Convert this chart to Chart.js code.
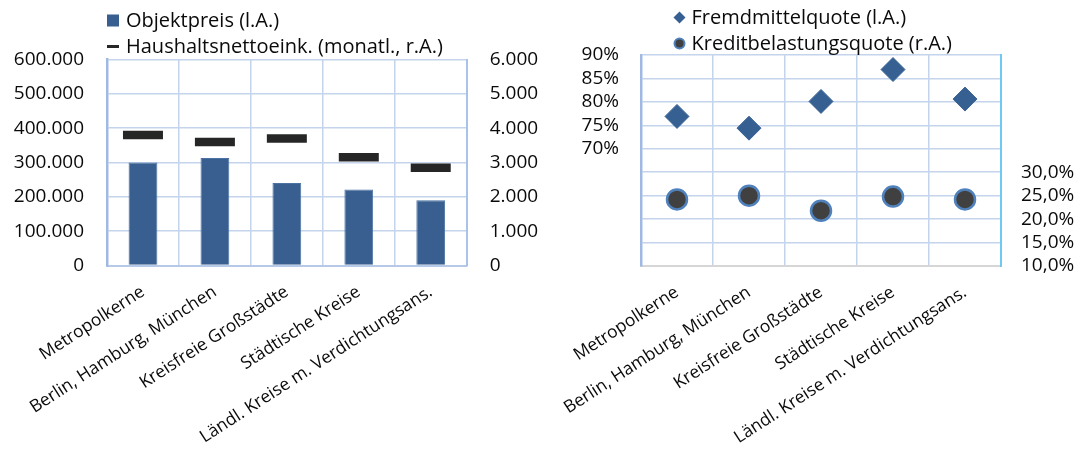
<!DOCTYPE html>
<html lang="de">
<head>
<meta charset="utf-8">
<title>Objektpreis, Einkommen und Finanzierung nach Kreistyp</title>
<script src="https://cdn.jsdelivr.net/npm/chart.js@4.4.1/dist/chart.umd.min.js"></script>
<style>
  html, body { margin: 0; padding: 0; background: #ffffff; }
  #wrap { position: relative; width: 1084px; height: 454px; overflow: hidden; }
  .panel { position: absolute; top: 0; height: 454px; }
  #left { left: 0; width: 540px; }
  #right { left: 540px; width: 544px; }
  canvas { display: block; }
</style>
</head>
<body>
<div id="wrap">
  <div class="panel" id="left"><canvas id="c1" width="540" height="454"></canvas></div>
  <div class="panel" id="right"><canvas id="c2" width="544" height="454"></canvas></div>
</div>
<script>
// Kreistypen (x axis of both panels)
const categories = [
  'Metropolkerne',
  'Berlin, Hamburg, München',
  'Kreisfreie Großstädte',
  'Städtische Kreise',
  'Ländl. Kreise m. Verdichtungsans.'
];

// Left panel: purchase price (EUR, left axis) and monthly net household income (EUR, right axis)
const objektpreis = [300000, 313000, 240000, 221000, 190000];
const haushaltsnettoeinkommen = [3800, 3600, 3700, 3150, 2850];

// Right panel: loan-to-value ratio (%, left axis) and debt service ratio (%, right axis)
const fremdmittelquote = [76.9, 74.4, 80.1, 86.9, 80.6];
const kreditbelastungsquote = [24.2, 25.0, 21.8, 24.8, 24.2];

// Tick labels
const preisTicks = [0, 100000, 200000, 300000, 400000, 500000, 600000];
const einkommenTicks = [0, 1000, 2000, 3000, 4000, 5000, 6000];
const fmqGrid = [45, 50, 55, 60, 65, 70, 75, 80, 85, 90];
const kbqGrid = [10, 15, 20, 25, 30, 35, 40, 45, 50, 55];
const fmqTicks = [70, 75, 80, 85, 90];
const kbqTicks = [10, 15, 20, 25, 30];

const FONT = "'Open Sans', 'Noto Sans', sans-serif";
const TEXT = '#0a0a0a';
const GRID = '#c3d4ec';

function dePoints(v) {
  return String(Math.round(v)).replace(/\B(?=(\d{3})+(?!\d))/g, '.');
}

// Two-row legend drawn at fixed positions above each plot
function drawMarker(ctx, kind, x, y, ds) {
  ctx.save();
  if (kind === 'square') {
    ctx.fillStyle = ds.backgroundColor;
    ctx.fillRect(x - 6, y - 6, 12, 12);
  } else if (kind === 'dash') {
    ctx.fillStyle = ds.borderColor;
    ctx.fillRect(x - 6, y - 1.5, 12, 3);
  } else if (kind === 'diamond') {
    ctx.fillStyle = ds.backgroundColor;
    ctx.beginPath();
    ctx.moveTo(x, y - 6);
    ctx.lineTo(x + 6, y);
    ctx.lineTo(x, y + 6);
    ctx.lineTo(x - 6, y);
    ctx.closePath();
    ctx.fill();
  } else if (kind === 'circle') {
    ctx.fillStyle = ds.backgroundColor;
    ctx.strokeStyle = ds.borderColor;
    ctx.lineWidth = 2;
    ctx.beginPath();
    ctx.arc(x, y, 5, 0, Math.PI * 2);
    ctx.fill();
    ctx.stroke();
  }
  ctx.restore();
}

const legendRows = {
  id: 'legendRows',
  afterDraw(chart, args, opts) {
    const ctx = chart.ctx;
    ctx.save();
    ctx.font = opts.font;
    ctx.textBaseline = 'middle';
    ctx.textAlign = 'left';
    opts.items.forEach(it => {
      const ds = chart.data.datasets[it.dataset];
      drawMarker(ctx, it.marker, it.x, it.y, ds);
      ctx.fillStyle = opts.color;
      ctx.fillText(ds.label, it.x + opts.textOffset, it.y + 1);
    });
    ctx.restore();
  }
};

function fixWidth(w) { return s => { s.width = w; }; }
function fixHeight(h) { return s => { s.height = h; }; }
function setTicks(values) { return s => { s.ticks = values.map(v => ({ value: v })); }; }

const xLabelFont = { family: FONT, size: 17.4 };
const tickFont = { family: FONT, size: 19 };
const legendFont = '20px ' + FONT;

// ---------- Left panel ----------
new Chart(document.getElementById('c1'), {
  data: {
    labels: categories,
    datasets: [
      {
        type: 'line',
        label: 'Haushaltsnettoeink. (monatl., r.A.)',
        data: haushaltsnettoeinkommen,
        yAxisID: 'y1',
        showLine: false,
        pointStyle: 'line',
        pointRadius: 20,
        pointBorderWidth: 8.5,
        borderColor: '#262626',
        backgroundColor: '#262626'
      },
      {
        type: 'bar',
        label: 'Objektpreis (l.A.)',
        data: objektpreis,
        yAxisID: 'y',
        backgroundColor: '#385f8f',
        borderColor: '#4a72a3',
        borderWidth: 1,
        barPercentage: 0.4,
        categoryPercentage: 1.0
      }
    ]
  },
  options: {
    responsive: false,
    animation: false,
    events: [],
    layout: { padding: { top: 59.5, left: 0, right: 0, bottom: 0 } },
    plugins: {
      legend: { display: false },
      tooltip: { enabled: false },
      legendRows: {
        font: legendFont,
        color: TEXT,
        textOffset: 13,
        items: [
          { dataset: 1, marker: 'square', x: 113, y: 20.5 },
          { dataset: 0, marker: 'dash', x: 113, y: 46.5 }
        ]
      }
    },
    scales: {
      x: {
        type: 'category',
        offset: true,
        grid: { display: true, offset: true, color: GRID, lineWidth: 1.5, drawTicks: false },
        border: { display: true, color: '#b6c9e8', width: 2 },
        ticks: { font: xLabelFont, color: TEXT, minRotation: 33, maxRotation: 33, autoSkip: false, padding: 16 },
        afterFit: fixHeight(454 - 265.5)
      },
      y: {
        position: 'left',
        min: 0, max: 600000,
        afterBuildTicks: setTicks(preisTicks),
        grid: { color: GRID, lineWidth: 1.5, drawTicks: false },
        border: { display: true, color: '#9fb9e3', width: 2.5 },
        ticks: { font: tickFont, color: TEXT, padding: 23, autoSkip: false, callback: v => dePoints(v) },
        afterFit: fixWidth(107)
      },
      y1: {
        position: 'right',
        min: 0, max: 6000,
        afterBuildTicks: setTicks(einkommenTicks),
        grid: { display: false, drawTicks: false },
        border: { display: true, color: '#a9c2e8', width: 2 },
        ticks: { font: tickFont, color: TEXT, padding: 23, autoSkip: false, callback: v => dePoints(v) },
        afterFit: fixWidth(540 - 466.7)
      }
    }
  },
  plugins: [legendRows]
});

// ---------- Right panel ----------
new Chart(document.getElementById('c2'), {
  type: 'line',
  data: {
    labels: categories,
    datasets: [
      {
        label: 'Fremdmittelquote (l.A.)',
        data: fremdmittelquote,
        yAxisID: 'y',
        showLine: false,
        pointStyle: 'rectRot',
        pointRadius: 12,
        pointBorderWidth: 1,
        backgroundColor: '#376092',
        borderColor: '#3a6597'
      },
      {
        label: 'Kreditbelastungsquote (r.A.)',
        data: kreditbelastungsquote,
        yAxisID: 'y1',
        showLine: false,
        pointStyle: 'circle',
        pointRadius: 10,
        pointBorderWidth: 2.5,
        backgroundColor: '#404040',
        borderColor: '#4f81bd'
      }
    ]
  },
  options: {
    responsive: false,
    animation: false,
    events: [],
    layout: { padding: { top: 55, left: 0, right: 0, bottom: 0 } },
    plugins: {
      legend: { display: false },
      tooltip: { enabled: false },
      legendRows: {
        font: legendFont,
        color: TEXT,
        textOffset: 12,
        items: [
          { dataset: 0, marker: 'diamond', x: 139.5, y: 17.5 },
          { dataset: 1, marker: 'circle', x: 139.5, y: 43.5 }
        ]
      }
    },
    scales: {
      x: {
        type: 'category',
        offset: true,
        grid: { display: true, offset: true, color: GRID, lineWidth: 1.5, drawTicks: false },
        border: { display: true, color: '#d6d6d6', width: 2 },
        ticks: { font: xLabelFont, color: TEXT, minRotation: 33, maxRotation: 33, autoSkip: false, padding: 16 },
        afterFit: fixHeight(454 - 266)
      },
      y: {
        position: 'left',
        min: 45, max: 90,
        afterBuildTicks: setTicks(fmqGrid),
        grid: { color: GRID, lineWidth: 1.5, drawTicks: false },
        border: { display: true, color: '#9fb9e3', width: 2.5 },
        ticks: { font: tickFont, color: TEXT, padding: 22, autoSkip: false, callback: v => fmqTicks.includes(v) ? v + '%' : '' },
        afterFit: fixWidth(101)
      },
      y1: {
        position: 'right',
        min: 10, max: 55,
        afterBuildTicks: setTicks(kbqGrid),
        grid: { display: false, drawTicks: false },
        border: { display: true, color: '#6ec9f3', width: 2 },
        ticks: { font: tickFont, color: TEXT, padding: 20, autoSkip: false, callback: v => kbqTicks.includes(v) ? v.toFixed(1).replace('.', ',') + '%' : '' },
        afterFit: fixWidth(544 - 461)
      }
    }
  },
  plugins: [legendRows]
});
</script>
</body>
</html>
